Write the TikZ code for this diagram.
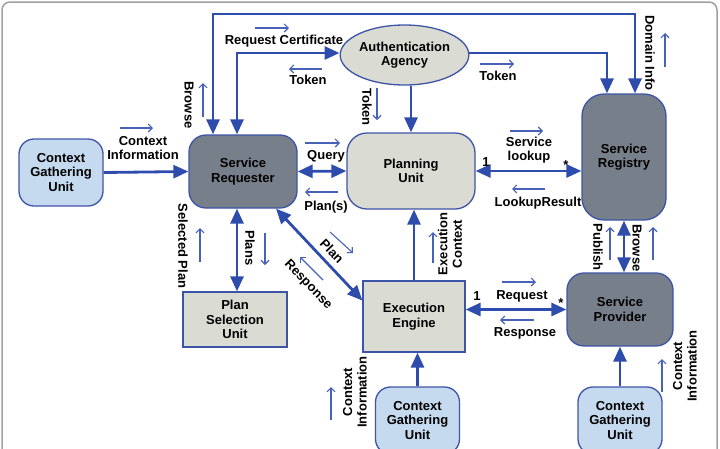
\documentclass[tikz,border=0pt]{standalone}
\usepackage{fontspec}
\setmainfont{Liberation Sans}
\usetikzlibrary{arrows.meta,shapes.geometric}
\definecolor{linkblue}{RGB}{45,76,172}
\definecolor{hintblue}{RGB}{72,98,186}
\definecolor{edgeblue}{RGB}{62,84,166}
\definecolor{darkfill}{RGB}{118,127,138}
\definecolor{lightfill}{RGB}{218,219,210}
\definecolor{ctxfill}{RGB}{197,217,239}
\definecolor{framegray}{RGB}{160,160,160}
\tikzset{
  unitbox/.style={
    rectangle,
    draw=edgeblue,
    line width=1.3pt,
    align=center,
    inner sep=0pt,
    text=black,
    font=\bfseries\fontsize{13}{14.5}\selectfont
  },
  darkbox/.style={unitbox, rounded corners=17pt, fill=darkfill},
  lightbox/.style={unitbox, rounded corners=20pt, fill=lightfill},
  flatbox/.style={unitbox, fill=lightfill},
  ctxbox/.style={
    unitbox,
    rounded corners=15pt,
    fill=ctxfill,
    minimum width=84pt,
    minimum height=67pt
  },
  agencybox/.style={
    ellipse,
    draw=edgeblue,
    line width=1.3pt,
    fill=lightfill,
    align=center,
    inner sep=0pt,
    minimum width=120pt,
    minimum height=60pt,
    font=\bfseries\fontsize{13}{14.5}\selectfont
  },
  lbl/.style={inner sep=0pt, align=center, text=black,
    font=\bfseries\fontsize{13}{14.5}\selectfont},
  arrow/.style={-{Triangle[length=15pt,width=13pt]}, line width=2.8pt, draw=linkblue},
  twoway/.style={arrow, {Triangle[length=15pt,width=13pt]}-{Triangle[length=15pt,width=13pt]}},
  hint/.style={-{Straight Barb[length=4pt,width=8pt]}, line width=1.1pt, draw=hintblue}
}
\begin{document}
\begin{tikzpicture}[x=1pt, y=-1pt]
  \useasboundingbox (0,0) rectangle (720,448);
  \clip (0,0) rectangle (720,448);
  \draw[framegray, line width=1.5pt, rounded corners=8pt] (2,2) rectangle (717,470);

  % units
  \node[ctxbox] (cgL) at (61,172.5) {Context\\Gathering\\Unit};
  \node[darkbox, minimum width=108pt, minimum height=73pt] (requester) at (243,171.5) {Service\\Requester};
  \node[agencybox] (agency) at (404.5,55) {Authentication\\Agency};
  \node[lightbox, minimum width=128pt, minimum height=76pt] (planning) at (411,171) {Planning\\Unit};
  \node[darkbox, rounded corners=22pt, minimum width=84pt, minimum height=126pt] (registry) at (624,157) {Service\\Registry};
  \node[flatbox, minimum width=104pt, minimum height=55pt] (selection) at (235,319.5) {Plan\\Selection\\Unit};
  \node[flatbox, minimum width=102pt, minimum height=71pt] (engine) at (414,316.5) {Execution\\Engine};
  \node[darkbox, minimum width=106pt, minimum height=73pt] (provider) at (620,309.5) {Service\\Provider};
  \node[ctxbox] (cgE) at (417.5,420.5) {Context\\Gathering\\Unit};
  \node[ctxbox] (cgP) at (620,420.5) {Context\\Gathering\\Unit};

  % connectors
  \draw[arrow] (cgL.east) -- (requester.west);
  \draw[twoway] (requester.east) -- (planning.west);
  \draw[twoway] (planning.east) -- (planning.east -| registry.west);
  \draw[twoway] ([xshift=2pt]selection.north |- requester.south) -- ([xshift=2pt]selection.north);
  \draw[twoway] ([xshift=33pt]requester.south) -- ([yshift=16pt]engine.west);
  \draw[arrow] (engine.north) -- (engine.north |- planning.south);
  \draw[arrow] (planning.north |- agency.south) -- (planning.north);
  \draw[twoway] (provider.west -| engine.east) -- (provider.west);
  \draw[twoway] (registry.south) -- (registry.south |- provider.north);
  \draw[arrow] (cgE.north) -- (cgE.north |- engine.south);
  \draw[arrow] (cgP.north) -- (provider.south);
  \draw[twoway] ([xshift=-6pt]requester.north) |- ([yshift=2pt]agency.west);
  \draw[arrow] ([yshift=2pt]agency.east) -| ([xshift=-17pt]registry.north);
  \coordinate (topline) at (420,14);
  \draw[twoway] ([xshift=-30pt]requester.north) |- (topline) -| ([xshift=11pt]registry.north);

  % labels
  \node[lbl] (ctxA) at (143,148) {Context\\Information};
  \node[lbl] (reqcert) at (284,41) {Request Certificate};
  \node[lbl] (tokA) at (308,80) {Token};
  \node[lbl] (tokB) at (498,76) {Token};
  \node[lbl, rotate=-90] (tokC) at (367,107) {Token};
  \node[lbl, rotate=-90] (domain) at (650,53) {Domain Info};
  \node[lbl, rotate=-90] (browseA) at (189,105) {Browse};
  \node[lbl] (query) at (326,156) {Query};
  \node[lbl] (plans) at (326,207) {Plan(s)};
  \node[lbl] (lookup) at (529,150) {Service\\lookup};
  \node[lbl] (result) at (538,203) {LookupResult};
  \node[lbl] (oneA) at (486,162) {1};
  \node[lbl] (starA) at (566,165) {*};
  \node[lbl, rotate=-90] (selected) at (183,246) {Selected Plan};
  \node[lbl, rotate=-90] (plansv) at (250,248) {Plans};
  \node[lbl, rotate=-46] (plan) at (332,251) {Plan};
  \node[lbl, rotate=-46] (respA) at (308,285) {Response};
  \node[lbl, rotate=90] (exec) at (450,244) {Execution\\Context};
  \node[lbl] (request) at (522,296) {Request};
  \node[lbl] (respB) at (525,333) {Response};
  \node[lbl] (oneB) at (477,296) {1};
  \node[lbl] (starB) at (561,303) {*};
  \node[lbl, rotate=-90] (publish) at (598,247) {Publish};
  \node[lbl, rotate=-90] (browseB) at (637,248) {Browse};
  \node[lbl, rotate=90] (ctxP) at (685,366) {Context\\Information};
  \node[lbl, rotate=90] (ctxE) at (355,392) {Context\\Information};

  % direction hints
  \draw[hint] (ctxA.center) ++(-23,-20) -- ++(33,0);
  \draw[hint] (reqcert.center) ++(-29,-13) -- ++(34,0);
  \draw[hint] (tokA.center) ++(14,-11) -- ++(-33,0);
  \draw[hint] (tokB.center) ++(-18,-12) -- ++(34,0);
  \draw[hint] (tokC.center) ++(10,-19) -- ++(0,32);
  \draw[hint] (domain.center) ++(15,14) -- ++(0,-34);
  \draw[hint] (browseA.center) ++(14,12) -- ++(0,-34);
  \draw[hint] (query.center) ++(-21,-13) -- ++(35,0);
  \draw[hint] (plans.center) ++(12,-15) -- ++(-33,0);
  \draw[hint] (lookup.center) ++(-19,-19) -- ++(33,0);
  \draw[hint] (result.center) ++(7,-14) -- ++(-33,0);
  \draw[hint] (selected.center) ++(17,16) -- ++(0,-34);
  \draw[hint] (plansv.center) ++(15,-15) -- ++(0,32);
  \draw[hint] (plan.center) ++(-2,-19) -- ++(23,21);
  \draw[hint] (respA.center) ++(15,-5) -- ++(-23,-23);
  \draw[hint] (exec.center) ++(-17,19) -- ++(0,-31);
  \draw[hint] (request.center) ++(-20,-14) -- ++(34,0);
  \draw[hint] (respB.center) ++(9,-13) -- ++(-34,0);
  \draw[hint] (publish.center) ++(12,13) -- ++(0,-33);
  \draw[hint] (browseB.center) ++(16,12) -- ++(0,-33);
  \draw[hint] (ctxP.center) ++(-23,26) -- ++(0,-33);
  \draw[hint] (ctxE.center) ++(-24,28) -- ++(0,-33);
\end{tikzpicture}
\end{document}
